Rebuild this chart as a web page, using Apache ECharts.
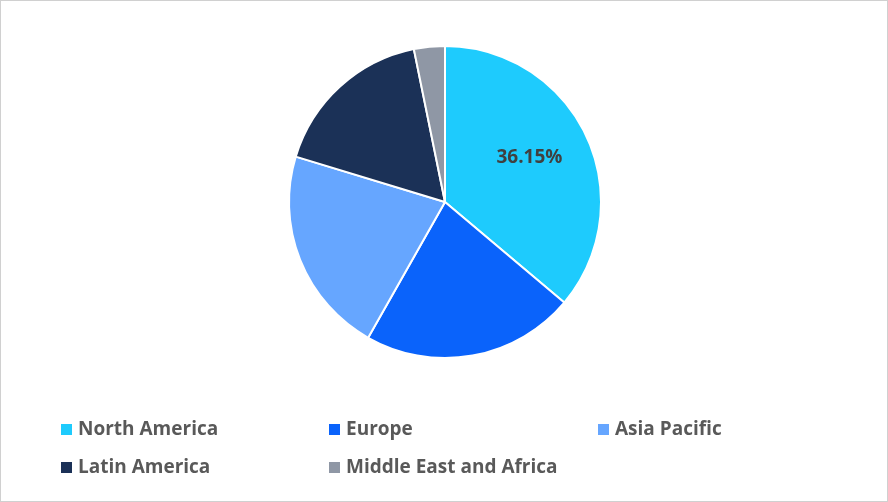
<!DOCTYPE html><html><head><meta charset="utf-8">
<script src="https://cdn.jsdelivr.net/npm/echarts@6/dist/echarts.min.js"></script>
<style>body{margin:0}#c{width:886px;height:500px;border:1px solid #d0d0d0}</style></head><body><div id="c"></div>
<script>
const categories=["North America","Europe","Asia Pacific","Latin America","Middle East and Africa"];
const values=[36.15,22.05,21.5,17.1,3.2];
const colors=["#1ECBFD","#0A63FB","#66A6FF","#1B3157","#8F97A5"];
const pos=[[53,414],[321,414],[590,414],[53,452],[321,452]];
const chart=echarts.init(document.getElementById('c'));
chart.setOption({
 color:colors,
 legend:categories.map((n,i)=>({data:[n],left:pos[i][0],top:pos[i][1],icon:'rect',itemWidth:13,itemHeight:13,itemGap:10,
   textStyle:{fontFamily:'Open Sans',fontSize:19,color:'#595959',fontWeight:'bold'}})),
 series:[{type:'pie',center:[444,201],radius:156,startAngle:90,clockwise:true,
  itemStyle:{borderColor:'#fff',borderWidth:2},labelLine:{show:false},
  data:categories.map((n,i)=>({name:n,value:values[i],label:{show:i===0,position:'inside',
    formatter:p=>p.value.toFixed(2)+'%',fontFamily:'Open Sans',fontSize:19,fontWeight:'bold',color:'#404040',
    offset:[11,-10]}}))}]
});
</script></body></html>
